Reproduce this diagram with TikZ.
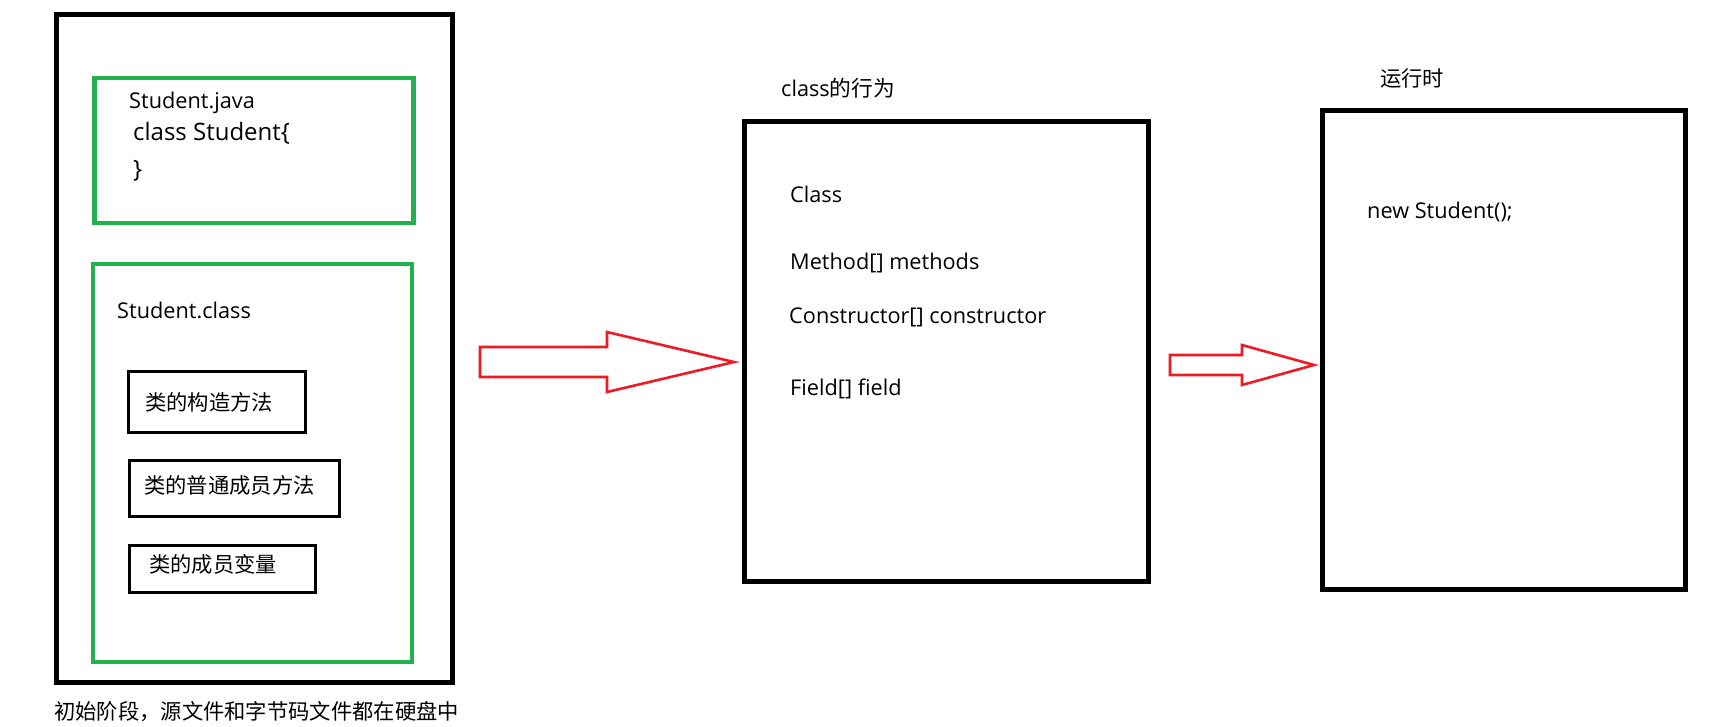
\documentclass[tikz,border=0pt]{standalone}
\usepackage{fontspec}
\setmainfont{Open Sans}
\newfontfamily\cjk{Noto Sans CJK SC}
\definecolor{paintgreen}{HTML}{22B14C}
\definecolor{paintred}{HTML}{ED1C24}
\begin{document}
\begin{tikzpicture}[x=1pt,y=-1pt,line join=miter,
		frame/.style={line width=5pt},
		srcbox/.style={draw=paintgreen,line width=4.5pt},
		member/.style={line width=3pt},
		flow/.style={draw=paintred,line width=2.6pt},
		txt/.style={inner sep=0pt,anchor=base west,font=\fontsize{21.7}{26}\selectfont},
		bigtxt/.style={txt,font=\fontsize{24}{29}\selectfont},
		cjktxt/.style={inner sep=0pt,anchor=west,font=\cjk\fontsize{21.3}{26}\selectfont}]
	\useasboundingbox (0,0) rectangle (1723,726);
	
	% disk: source and bytecode
	\coordinate (D1) at (56, 14.5);
	\coordinate (D2) at (452, 682);
	\coordinate (J1) at (94.5, 78);
	\coordinate (J2) at (413.5, 223);
	\coordinate (C1) at (93, 264);
	\coordinate (C2) at (412, 662);
	
	\draw[frame] (D1) rectangle (D2);
	\draw[srcbox] (J1) rectangle (J2);
	\draw[srcbox] (C1) rectangle (C2);
	
	\node[txt] (javafile) at (129, 108) {Student.java};
	\node[bigtxt] (classdecl) at (133, 140) {class Student\{};
	\node[bigtxt] (closebrace) at (133, 177) {\}};
	\node[txt] (classfile) at (117, 318) {Student.class};
	
	\draw[member] (128, 371) rectangle (305, 432);
	\draw[member] (129, 460) rectangle (339, 516);
	\draw[member] (129, 545) rectangle (315, 592);
	\node[cjktxt] (ctor) at (145, 402) {类的构造方法};
	\node[cjktxt] (method) at (144, 485) {类的普通成员方法};
	\node[cjktxt] (field) at (149, 564) {类的成员变量};
	
	\node[cjktxt] (stage) at (54, 712) {初始阶段，源文件和字节码文件都在硬盘中};
	
	% class object in memory
	\coordinate (M1) at (744, 121);
	\coordinate (M2) at (1148, 581);
	\draw[frame] (M1) rectangle (M2);
	\node[txt] (behav) at (781, 96) {class{\cjk 的行为}};
	\node[txt] (cls) at (790, 202) {Class};
	\node[txt] (methods) at (790, 269) {Method[] methods};
	\node[txt] (ctors) at (789, 323) {Constructor[] constructor};
	\node[txt] (fields) at (790, 395) {Field[] field};
	
	% runtime
	\coordinate (R1) at (1322, 110.5);
	\coordinate (R2) at (1685, 589);
	\draw[frame] (R1) rectangle (R2);
	\node[cjktxt] (runtime) at (1380, 78) {运行时};
	\node[txt] (newobj) at (1367, 218) {new Student();};
	
	% block arrows
	\coordinate (P1) at (480, 347);
	\coordinate (P2) at (607, 347);
	\coordinate (P3) at (607, 332);
	\coordinate (P4) at (734, 362);
	\coordinate (P5) at (607, 392);
	\coordinate (P6) at (607, 377);
	\coordinate (P7) at (480, 377);
	\draw[flow] (P1) -- (P2) -- (P3) -- (P4) -- (P5) -- (P6) -- (P7) -- cycle;
	
	\coordinate (Q1) at (1170, 355);
	\coordinate (Q2) at (1242, 355);
	\coordinate (Q3) at (1242, 345);
	\coordinate (Q4) at (1314, 365);
	\coordinate (Q5) at (1242, 385);
	\coordinate (Q6) at (1242, 375);
	\coordinate (Q7) at (1170, 375);
	\draw[flow] (Q1) -- (Q2) -- (Q3) -- (Q4) -- (Q5) -- (Q6) -- (Q7) -- cycle;
\end{tikzpicture}
\end{document}
